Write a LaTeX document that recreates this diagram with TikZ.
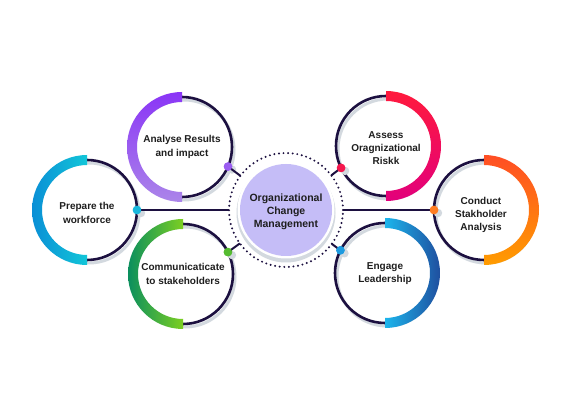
\documentclass[tikz,border=0pt]{standalone}
\usepackage{fontspec}
\setmainfont{Liberation Sans}
\usetikzlibrary{calc}
\definecolor{navy}{HTML}{1C1040}
\definecolor{shadowgray}{HTML}{D3D9DF}
\definecolor{lav}{HTML}{C5BDF7}
\definecolor{txt}{HTML}{1E1E1E}
\definecolor{pA1}{HTML}{8A35F6}\definecolor{pA2}{HTML}{AB85E9}
\definecolor{pB1}{HTML}{FF1A3D}\definecolor{pB2}{HTML}{E2007C}
\definecolor{pP1}{HTML}{0A8FD6}\definecolor{pP2}{HTML}{12C6D8}
\definecolor{pK1}{HTML}{FF4E24}\definecolor{pK2}{HTML}{FF9C00}
\definecolor{pM1}{HTML}{0B8F5E}\definecolor{pM2}{HTML}{7CCF22}
\definecolor{pE1}{HTML}{1CB5EC}\definecolor{pE2}{HTML}{1F4F9F}
\definecolor{dA}{HTML}{9A5CF0}
\definecolor{dB}{HTML}{F5174D}
\definecolor{dP}{HTML}{18B6DC}
\definecolor{dK}{HTML}{FF7D22}
\definecolor{dM}{HTML}{55BB30}
\definecolor{dE}{HTML}{1E9BE0}
\tikzset{
  ring/.style={draw=navy,line width=2.6pt},
  shadowring/.style={draw=shadowgray,line width=3pt},
  lbl/.style={font=\bfseries\fontsize{10}{13.2}\selectfont,align=center,text=txt,inner sep=0pt},
  clbl/.style={font=\bfseries\fontsize{10.5}{13}\selectfont,align=center,text=txt,inner sep=0pt},
  dotn/.style={circle,inner sep=0pt,minimum size=8.5pt},
  conn/.style={draw=navy,line width=2pt},
  satnode/.style={circle,minimum size=100pt,inner sep=0pt},
}
% #1 name, #2 x, #3 y, #4 start angle, #5 opposite angle, #6 shading, #7 dot angle, #8 dot colour
\newcommand\mysat[8]{%
  \node[satnode] (#1) at (#2,#3) {};
  \draw[shadowring] ($(#1)+(2,-3)$) circle[radius=50];
  \draw[ring] (#1) circle[radius=50];
  \shade[#6] ($(#1)+(#4:55)$) arc[start angle=#4,delta angle=180,radius=55]
     -- ($(#1)+(#5:45)$) arc[start angle=#5,delta angle=-180,radius=45] -- cycle;
  \fill[shadowgray] ($(#1)+(#7:50)+(4,-3)$) circle[radius=4.2];
  \node[dotn,fill=#8] (#1d) at ($(#1)+(#7:50)$) {};
}
\begin{document}
\begin{tikzpicture}[x=1pt,y=1pt]
\useasboundingbox (0,0) rectangle (570,420);
\fill[white] (0,0) rectangle (570,420);

% centre
\coordinate (C) at (286,210);
\fill[shadowgray] ($(C)+(0,-3)$) circle[radius=49.5];
\fill[white] (C) circle[radius=48.5];
\node[circle,fill=lav,minimum size=92pt,inner sep=0pt] (Cn) at (C) {};
\node[clbl] (Ct) at ($(C)+(0,-2)$) {Organizational\\Change\\Management};
\draw[navy,line width=2.2pt,line cap=round,dash pattern=on 0pt off 4.6pt] (C) circle[radius=57];

% satellites
\mysat{A}{182}{273}{90}{270}{top color=pA1,bottom color=pA2}{-23}{dA}
\mysat{B}{386}{274}{-90}{90}{top color=pB1,bottom color=pB2}{206}{dB}
\mysat{P}{87}{210}{90}{270}{left color=pP1,right color=pP2}{0}{dP}
\mysat{K}{484}{210}{-90}{90}{top color=pK1,bottom color=pK2}{180}{dK}
\mysat{M}{183}{146}{90}{270}{left color=pM1,right color=pM2}{26}{dM}
\mysat{E}{385}{147}{-90}{90}{left color=pE1,right color=pE2}{153}{dE}

% connectors to the dotted ring
\foreach \s in {A,B,P,K,M,E}{
  \coordinate (\s r) at ($(C)!57pt!(\s d)$);
}
\foreach \s in {A,B,P,K,M,E}{
  \draw[conn] (\s d.center) -- (\s r);
}
% dots on top of connectors
\node[dotn,fill=dA] at (Ad) {};
\node[dotn,fill=dB] at (Bd) {};
\node[dotn,fill=dP] at (Pd) {};
\node[dotn,fill=dK] at (Kd) {};
\node[dotn,fill=dM] at (Md) {};
\node[dotn,fill=dE] at (Ed) {};

% labels
\node[lbl] (At) at ($(A)+(0,0)$) {Analyse Results\\and impact};
\node[lbl] (Bt) at ($(B)+(0,-2)$) {Assess\\Oragnizational\\Riskk};
\node[lbl] (Pt) at ($(P)+(0,-3)$) {Prepare the\\workforce};
\node[lbl] (Kt) at ($(K)+(-3,-5)$) {Conduct\\Stakholder\\Analysis};
\node[lbl] (Mt) at ($(M)+(0,0)$) {Communicaticate\\to stakeholders};
\node[lbl] (Et) at ($(E)+(0,-1)$) {Engage\\Leadership};
\end{tikzpicture}
\end{document}
